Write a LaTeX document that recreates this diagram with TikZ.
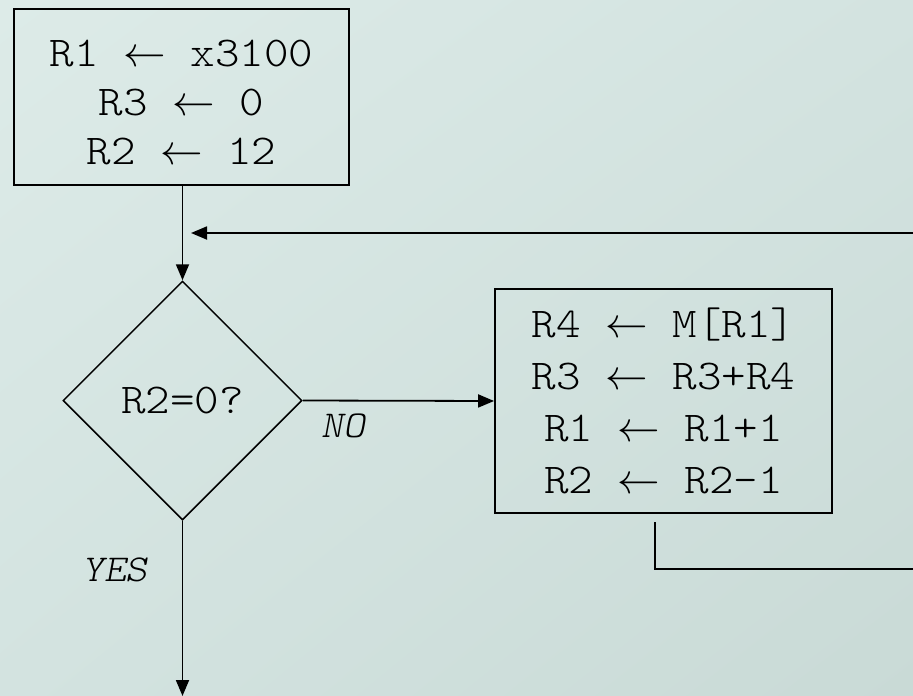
\documentclass[tikz,border=0pt]{standalone}
\usepackage{graphicx}
\usepackage{fontspec}
\setmonofont{lmmonolt10-regular.otf}[ItalicFont=lmmonolt10-oblique.otf, FakeStretch=1.1]
\usetikzlibrary{shapes.geometric,arrows.meta,shadings}
\definecolor{bgUL}{HTML}{DDEBE8}
\definecolor{bgMid}{HTML}{D3E3E0}
\definecolor{bgLR}{HTML}{C9DAD6}
\newcommand{\asg}{\scalebox{4.25}{\fontsize{10}{12}\selectfont$\leftarrow$}}
\begin{document}
\begin{tikzpicture}[x=1pt,y=-1pt,
  txt/.style={font=\fontsize{42.5}{49}\selectfont\ttfamily, align=center},
  procbox/.style={draw, line width=1.8pt, inner sep=0pt, txt},
  decision/.style={diamond, draw, line width=1.5pt, inner sep=0pt,
    minimum width=239pt, minimum height=239pt, txt},
  conn/.style={line width=1.8pt, -{Triangle[length=16pt,width=13pt]}},
  loopline/.style={line width=2.6pt},
  lbl/.style={font=\fontsize{38}{40}\selectfont\ttfamily\itshape, inner sep=0pt}]
\shade[upper left=bgUL, upper right=bgMid, lower left=bgMid, lower right=bgLR]
  (0,0) rectangle (913,696);
\useasboundingbox (0,0) rectangle (913,696);

\node[procbox, minimum width=335pt, minimum height=176pt] (init) at (181.5,97)
  {\rule{0pt}{38pt}R1 \asg{} x3100\\R3 \asg{} 0\\R2 \asg{} 12};
\node[decision] (test) at (182.5,400.5) {R2=0?};
\node[procbox, minimum width=337pt, minimum height=224pt,
  font=\fontsize{42.5}{52}\selectfont\ttfamily] (body) at (663.5,401)
  {R4 \asg{} M[R1]\\R3 \asg{} R3+R4\\R1 \asg{} R1+1\\R2 \asg{} R2-1};

\node[lbl] (no) at (343,425.5) {NO};
\node[lbl] (yes) at (115,570) {YES};

\coordinate (loopstart) at (655,522);
\coordinate (loopright) at (913,569);
\coordinate (backin) at (913,233);
\coordinate (backtip) at (191,233);
\coordinate (exit) at (182.5,696);

\draw[conn] (init.south -| test.north) -- (test.north);
\draw[conn] (test.east) -- (body.west);
\draw[conn] (test.south) -- (exit);
\draw[loopline] (loopstart) |- (loopright);
\draw[conn] (backin) -- (backtip);
\end{tikzpicture}
\end{document}
